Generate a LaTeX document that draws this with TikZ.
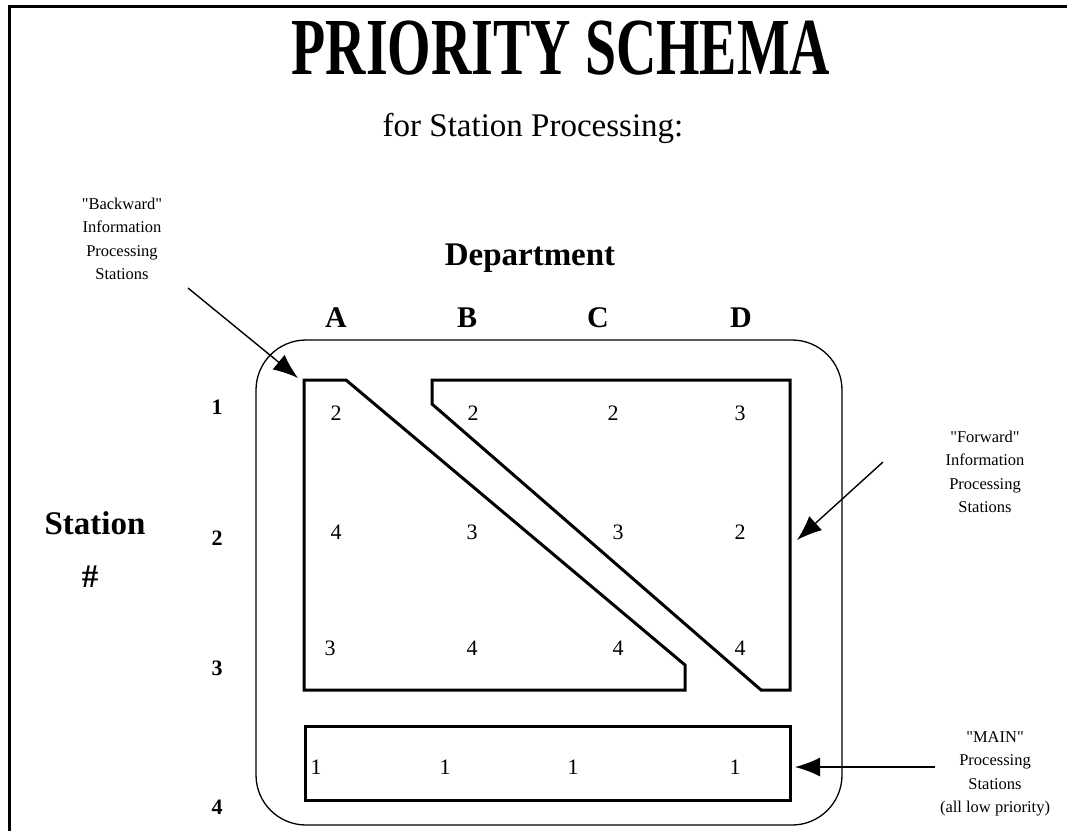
\documentclass[tikz,border=0pt]{standalone}
\usepackage{fontspec}
\setmainfont{Liberation Serif}[Ligatures=TeXOff]
\usetikzlibrary{arrows.meta}
\begin{document}
\begin{tikzpicture}[x=1pt,y=-1pt,
  region/.style={line width=3pt,line join=miter},
  pointer/.style={line width=1.4pt,-{Latex[length=25pt,width=19pt]}},
  note/.style={align=center,inner sep=0pt,font=\fontsize{16.5}{23.5}\selectfont},
  cell/.style={inner sep=0pt,font=\fontsize{22}{22}\selectfont},
  rowno/.style={inner sep=0pt,font=\bfseries\fontsize{22}{22}\selectfont},
  colno/.style={inner sep=0pt,font=\bfseries\fontsize{30}{30}\selectfont},
  heading/.style={inner sep=0pt,font=\bfseries\fontsize{33}{33}\selectfont}]
\useasboundingbox (0,0) rectangle (1067,831);
% page frame (open at the right and bottom)
\draw[line width=3pt] (9,831) -- (9,6) -- (1067,6);

% titles
\node[inner sep=0pt] (title) at (561,48)
  {\scalebox{0.69}[1]{\bfseries\fontsize{81}{81}\selectfont PRIORITY SCHEMA}};
\node[inner sep=0pt,font=\fontsize{33}{33}\selectfont] (subtitle) at (533,128) {for Station Processing:};

% axis headings
\node[heading] (dept) at (530,258) {Department};
\node[heading] (station) at (95,523) {Station};
\node[heading] (hash) at (90,577) {\#};
\node[colno] (colA) at (336,318) {A};
\node[colno] (colB) at (467,318) {B};
\node[colno] (colC) at (598,318) {C};
\node[colno] (colD) at (741,318) {D};
\node[rowno] (row1) at (217,407) {1};
\node[rowno] (row2) at (217,538) {2};
\node[rowno] (row3) at (217,668) {3};
\node[rowno] (row4) at (217,807) {4};

% outer boundary of all stations
\draw[line width=1.3pt,rounded corners=50pt] (256,340) rectangle (842,825);

% backward, forward and main regions
\draw[region] (304,380) -- (346,380) -- (685,665) -- (685,690) -- (304,690) -- cycle;
\draw[region] (432,380) -- (790,380) -- (790,690) -- (761,690) -- (432,404) -- cycle;
\draw[region] (305,726) rectangle (790,800);

% priority values
\node[cell] (a1) at (336,413) {2};
\node[cell] (b1) at (473,413) {2};
\node[cell] (c1) at (613,413) {2};
\node[cell] (d1) at (740,413) {3};
\node[cell] (a2) at (336,532) {4};
\node[cell] (b2) at (472,532) {3};
\node[cell] (c2) at (618,532) {3};
\node[cell] (d2) at (740,532) {2};
\node[cell] (a3) at (330,648) {3};
\node[cell] (b3) at (472,648) {4};
\node[cell] (c3) at (618,648) {4};
\node[cell] (d3) at (740,648) {4};
\node[cell] (a4) at (316,767) {1};
\node[cell] (b4) at (445,767) {1};
\node[cell] (c4) at (573,767) {1};
\node[cell] (d4) at (735,767) {1};

% callouts
\node[note] (back) at (122,239) {"Backward"\\Information\\Processing\\Stations};
\node[note] (fwd) at (985,472) {"Forward"\\Information\\Processing\\Stations};
\node[note] (main) at (995,774) {"MAIN"\\Processing\\Stations\\(all low priority)};

\coordinate (backtail) at (188,288);
\coordinate (backtip) at (298,378);
\coordinate (fwdtail) at (883,462);
\coordinate (fwdtip) at (797,540);
\coordinate (maintail) at (935,767);
\coordinate (maintip) at (795,767);
\draw[pointer] (backtail) -- (backtip);
\draw[pointer] (fwdtail) -- (fwdtip);
\draw[pointer] (maintail) -- (maintip);
\end{tikzpicture}
\end{document}
